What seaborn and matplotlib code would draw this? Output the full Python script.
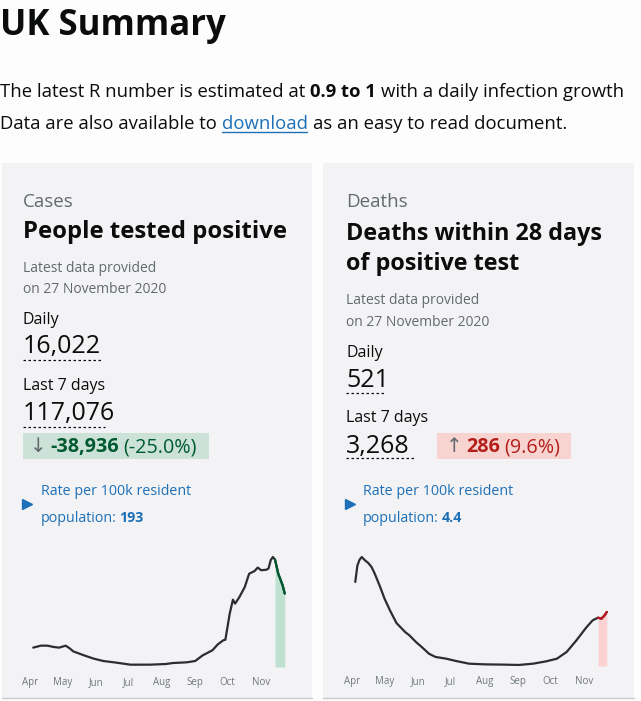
import pandas as pd
import matplotlib
matplotlib.use("Agg")
import matplotlib.pyplot as plt
import matplotlib.dates as mdates
from matplotlib.patches import Rectangle
import seaborn as sns

# cases, 7-day average by date
case_dates = ["2020-04-04", "2020-04-11", "2020-04-17", "2020-04-23", "2020-04-28",
              "2020-05-04", "2020-05-08", "2020-05-11", "2020-05-21", "2020-05-30",
              "2020-06-08", "2020-06-20", "2020-07-03", "2020-07-21", "2020-08-05",
              "2020-08-11", "2020-08-24", "2020-09-01", "2020-09-08", "2020-09-17",
              "2020-09-22", "2020-09-27", "2020-09-29", "2020-10-03", "2020-10-06",
              "2020-10-08", "2020-10-12", "2020-10-17", "2020-10-21", "2020-10-26",
              "2020-10-29", "2020-11-01", "2020-11-06", "2020-11-08", "2020-11-10",
              "2020-11-12", "2020-11-14", "2020-11-17", "2020-11-21", "2020-11-23"]
case_values = [4400, 4850, 4850, 4550, 4400,
               4850, 4200, 3560, 2650, 1900,
               1360, 990, 530, 530, 680,
               900, 1060, 1360, 2650, 3800,
               5150, 6060, 6200, 12100, 15300,
               14400, 15900, 18200, 21200, 21800,
               22600, 22000, 22100, 22400, 24300,
               25000, 24400, 21200, 18600, 16700]
case_recent_from = "2020-11-13"

# deaths within 28 days, 7-day average by date
death_dates = ["2020-04-04", "2020-04-06", "2020-04-08", "2020-04-10", "2020-04-13",
               "2020-04-16", "2020-04-19", "2020-04-22", "2020-04-27", "2020-05-01",
               "2020-05-06", "2020-05-12", "2020-05-20", "2020-05-24", "2020-05-30",
               "2020-06-05", "2020-06-11", "2020-06-17", "2020-06-27", "2020-07-06",
               "2020-07-18", "2020-08-02", "2020-08-18", "2020-09-02", "2020-09-15",
               "2020-09-27", "2020-10-07", "2020-10-16", "2020-10-25", "2020-11-03",
               "2020-11-09", "2020-11-14", "2020-11-17", "2020-11-20", "2020-11-22"]
death_values = [725, 868, 917, 940, 911,
                888, 854, 796, 681, 581,
                480, 371, 293, 264, 207,
                158, 106, 78, 63, 43,
                20, 14, 12, 9, 20,
                40, 63, 121, 221, 331,
                394, 417, 408, 437, 466]
death_recent_from = "2020-11-14"

month_ticks = ["2020-04-01", "2020-05-01", "2020-06-01", "2020-07-01",
               "2020-08-01", "2020-09-01", "2020-10-01", "2020-11-01"]

BLACK = "#0b0c0c"
GREY = "#626a6e"
BLUE = "#1d70b8"
CARD = "#f3f3f5"

sns.set_style("white")
plt.rcParams["font.family"] = ["Open Sans", "DejaVu Sans"]

fig = plt.figure(figsize=(6.41, 7.01), dpi=100, facecolor="#fdfdfe")
bg = fig.add_axes([0, 0, 1, 1])
bg.set_xlim(0, 641)
bg.set_ylim(701, 0)
bg.axis("off")
renderer = fig.canvas.get_renderer()


def runs(x, y, parts, size, gap=0.27):
    # draw pieces of one line one after another
    for s, kw in parts:
        t = bg.text(x, y, s, va="baseline", ha="left", fontsize=size, **kw)
        x += t.get_window_extent(renderer).width
        x += gap * size * 100 / 72
    return x


def dotted(x0, x1, y):
    bg.plot([x0, x1], [y, y], color=BLACK, lw=0.9, ls=(0, (2, 2)))


# header
bg.text(0, 35, "UK Summary", fontsize=25, weight="bold", color=BLACK, va="baseline")
runs(0, 97, [("The latest R number is estimated at", dict(color=BLACK)),
             ("0.9 to 1", dict(color=BLACK, weight="bold")),
             ("with a daily infection growth", dict(color=BLACK))], 13.3)
x = runs(0, 129, [("Data are also available to", dict(color=BLACK))], 13.3)
t = bg.text(x, 129, "download", fontsize=13.3, color=BLUE, va="baseline")
w = t.get_window_extent(renderer).width
bg.plot([x, x + w - 1], [131.5, 131.5], color=BLUE, lw=1)
bg.text(x + w + 5, 129, "as an easy to read document.", fontsize=13.3, color=BLACK, va="baseline")

# cards
for cx0, cx1 in [(2, 312), (323, 634)]:
    bg.add_patch(Rectangle((cx0, 163), cx1 - cx0, 535, color=CARD, lw=0))
    bg.plot([cx0, cx1], [698, 698], color="#c8cacc", lw=1)

# left card
L = 23
bg.text(L, 207, "Cases", fontsize=13.5, color=GREY, va="baseline")
bg.text(L, 238, "People tested positive", fontsize=17.2, weight="bold", color=BLACK, va="baseline")
bg.text(L, 272, "Latest data provided", fontsize=10, color=GREY, va="baseline")
bg.text(L, 293, "on 27 November 2020", fontsize=10, color=GREY, va="baseline")
bg.text(L, 324, "Daily", fontsize=11.5, color=BLACK, va="baseline")
bg.text(L, 353, "16,022", fontsize=18, color=BLACK, va="baseline")
dotted(L, 103, 360)
bg.text(L, 390, "Last 7 days", fontsize=11.5, color=BLACK, va="baseline")
bg.text(L, 420, "117,076", fontsize=18, color=BLACK, va="baseline")
dotted(L, 105, 427)
bg.add_patch(Rectangle((23, 433), 186, 26, color="#cce2d8", lw=0))
runs(30, 452, [("↓", dict(color=GREY, family=["DejaVu Sans"])),
               ("-38,936", dict(color="#005a30", weight="bold")),
               ("(-25.0%)", dict(color="#005a30"))], 14.2, gap=0.2)
bg.plot(27, 504, marker=">", ms=7, color=BLUE)
bg.text(41, 495, "Rate per 100k resident", fontsize=10.3, color=BLUE, va="baseline")
runs(41, 522, [("population:", dict(color=BLUE)),
               ("193", dict(color=BLUE, weight="bold"))], 10.3, gap=0.2)

# right card
R = 346
bg.text(R, 207, "Deaths", fontsize=13.5, color=GREY, va="baseline")
bg.text(R, 240, "Deaths within 28 days", fontsize=16.8, weight="bold", color=BLACK, va="baseline")
bg.text(R, 270, "of positive test", fontsize=16.8, weight="bold", color=BLACK, va="baseline")
bg.text(R, 304, "Latest data provided", fontsize=10, color=GREY, va="baseline")
bg.text(R, 326, "on 27 November 2020", fontsize=10, color=GREY, va="baseline")
bg.text(R, 357, "Daily", fontsize=11.5, color=BLACK, va="baseline")
bg.text(R, 387, "521", fontsize=18, color=BLACK, va="baseline")
dotted(R, 386, 393)
bg.text(R, 422, "Last 7 days", fontsize=11.5, color=BLACK, va="baseline")
bg.text(R, 453, "3,268", fontsize=18, color=BLACK, va="baseline")
dotted(R, 415, 458)
bg.add_patch(Rectangle((437, 433), 134, 26, color="#f8d4d1", lw=0))
runs(446, 452, [("↑", dict(color=GREY, family=["DejaVu Sans"])),
                ("286", dict(color="#b3201c", weight="bold")),
                ("(9.6%)", dict(color="#b3201c"))], 14.2, gap=0.2)
bg.plot(350, 504, marker=">", ms=7, color=BLUE)
bg.text(363, 495, "Rate per 100k resident", fontsize=10.3, color=BLUE, va="baseline")
runs(363, 522, [("population:", dict(color=BLUE)),
                ("4.4", dict(color=BLUE, weight="bold"))], 10.3, gap=0.2)


def px_axes(x0, x1, ytop, ybot):
    return fig.add_axes([x0 / 641, 1 - ybot / 701, (x1 - x0) / 641, (ybot - ytop) / 701])


def chart(ax, dates, values, recent_from, line_c, fill_c, apr_px, nov_px, x0, x1, ymax_val, ymax_px, y0_px, ytop_px):
    df = pd.DataFrame({"date": pd.to_datetime(dates), "value": values})
    recent = df[df["date"] >= pd.Timestamp(recent_from)]
    ax.fill_between(recent["date"], 0, recent["value"], color=fill_c, lw=0)
    sns.lineplot(data=df, x="date", y="value", ax=ax, color="#2b2d2e", lw=1.6)
    sns.lineplot(data=recent, x="date", y="value", ax=ax, color=line_c, lw=1.6)
    apr = pd.Timestamp(month_ticks[0])
    ppd = (nov_px - apr_px) / (pd.Timestamp(month_ticks[-1]) - apr).days
    ax.set_xlim(apr - pd.Timedelta(days=(apr_px - x0) / ppd), apr + pd.Timedelta(days=(x1 - apr_px) / ppd))
    per_px = ymax_val / (y0_px - ymax_px)
    ax.set_ylim(0, ymax_val + (ymax_px - ytop_px) * per_px)
    ax.set_xticks(pd.to_datetime(month_ticks))
    ax.xaxis.set_major_formatter(mdates.DateFormatter("%b"))
    ax.tick_params(axis="x", length=2, width=0.8, color="#9a9fa3", pad=5,
                   labelsize=7, labelcolor="#6f777b")
    ax.set_yticks([])
    ax.set_xlabel("")
    ax.set_ylabel("")
    ax.patch.set_alpha(0)
    sns.despine(ax=ax, left=True, bottom=True)


ax1 = px_axes(23, 300, 552, 667)
chart(ax1, case_dates, case_values, case_recent_from, "#005a30", "#bfe1d1",
      30, 261, 23, 300, 25000, 557, 667, 552)
ax2 = px_axes(345, 622, 552, 666)
chart(ax2, death_dates, death_values, death_recent_from, "#c0141e", "#fbd1d1",
      352, 584, 345, 622, 940, 557, 666, 552)

fig.savefig("out.png", dpi=100, facecolor=fig.get_facecolor())
